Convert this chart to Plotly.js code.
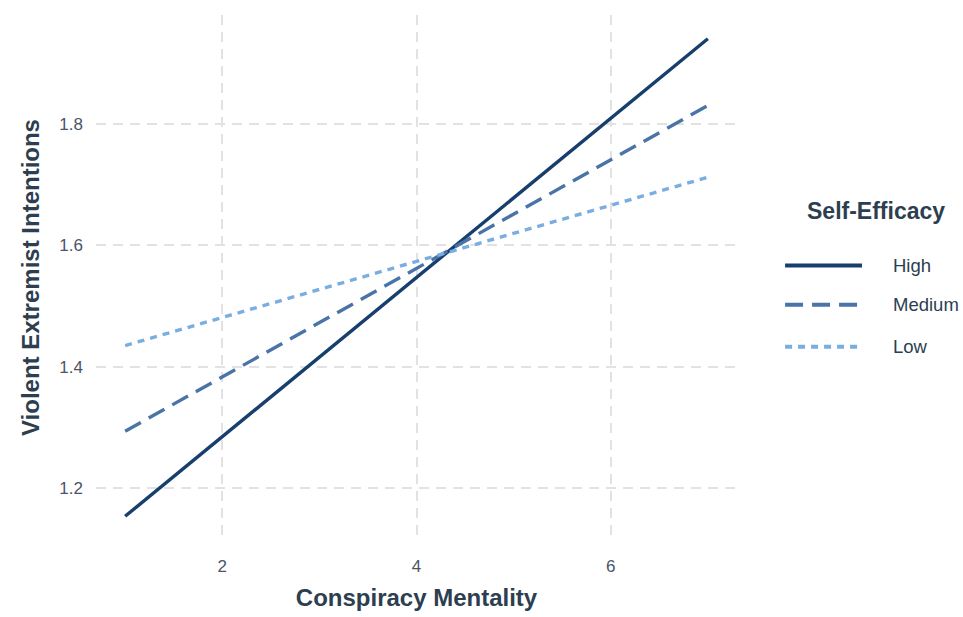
<!DOCTYPE html>
<html>
<head>
<meta charset="utf-8">
<script src="https://cdn.plot.ly/plotly-3.0.1.min.js"></script>
<style>html,body{margin:0;padding:0;background:#fff;}#chart{width:963px;height:617px;}</style>
</head>
<body>
<div id="chart"></div>
<script>
const conspiracy = [1, 7];
const seriesNames = ["High", "Medium", "Low"];
const highVals = [1.154, 1.940];
const mediumVals = [1.294, 1.830];
const lowVals = [1.435, 1.712];
const xTicks = [2, 4, 6];
const yTicks = [1.2, 1.4, 1.6, 1.8];

const colors = ["#173f6e", "#4a74a8", "#7aade0"];
const dashStyles = ["solid", "18px,9px", "7px,6px"];
const seriesVals = [highVals, mediumVals, lowVals];

const traces = seriesNames.map((n, i) => ({
  x: conspiracy, y: seriesVals[i], type: "scatter", mode: "lines", name: n,
  line: {color: colors[i], width: 3.4, dash: dashStyles[i]},
  showlegend: false
}));

const shapes = [];
const annotations = [];
const legY = [0.523, 0.448, 0.368];
seriesNames.forEach((n, i) => {
  shapes.push({type: "line", xref: "paper", yref: "paper",
    x0: 1.075, x1: 1.195, y0: legY[i], y1: legY[i],
    line: {color: colors[i], width: 4, dash: dashStyles[i]}});
  annotations.push({xref: "paper", yref: "paper", x: 1.24, y: legY[i], xanchor: "left", yanchor: "middle",
    text: n, showarrow: false, font: {family: "Liberation Sans, Arial, sans-serif", size: 18.5, color: "#2c3e50"}});
});
annotations.push({xref: "paper", yref: "paper", x: 1.217, y: 0.626, xanchor: "center", yanchor: "middle",
  text: "<b>Self-Efficacy</b>", showarrow: false, font: {family: "Liberation Sans, Arial, sans-serif", size: 23, color: "#2c3e50"}});

const layout = {
  width: 963, height: 617,
  margin: {l: 96, r: 226, t: 15, b: 77},
  paper_bgcolor: "#fff", plot_bgcolor: "#fff",
  font: {family: "Liberation Sans, Arial, sans-serif", color: "#4a5568"},
  xaxis: {
    range: [0.7, 7.3], tickvals: xTicks, ticktext: xTicks.map(String),
    showgrid: true, gridcolor: "#e2e2e2", gridwidth: 2, griddash: "10px,7px",
    zeroline: false, showline: false, ticks: "", ticklabelstandoff: 14,
    tickfont: {size: 17, color: "#4a5568"},
    title: {text: "<b>Conspiracy Mentality</b>", font: {size: 24, color: "#2c3e50"}, standoff: 14}
  },
  yaxis: {
    range: [1.115, 1.979], tickvals: yTicks, ticktext: yTicks.map(v => v.toFixed(1)),
    showgrid: true, gridcolor: "#e2e2e2", gridwidth: 2, griddash: "10px,7px",
    zeroline: false, showline: false, ticks: "", ticklabelstandoff: 12,
    tickfont: {size: 17, color: "#4a5568"},
    title: {text: "<b>Violent Extremist Intentions</b>", font: {size: 24, color: "#2c3e50"}, standoff: 12}
  },
  shapes: shapes, annotations: annotations, showlegend: false
};

Plotly.newPlot("chart", traces, layout, {displayModeBar: false, staticPlot: true});
</script>
</body>
</html>
